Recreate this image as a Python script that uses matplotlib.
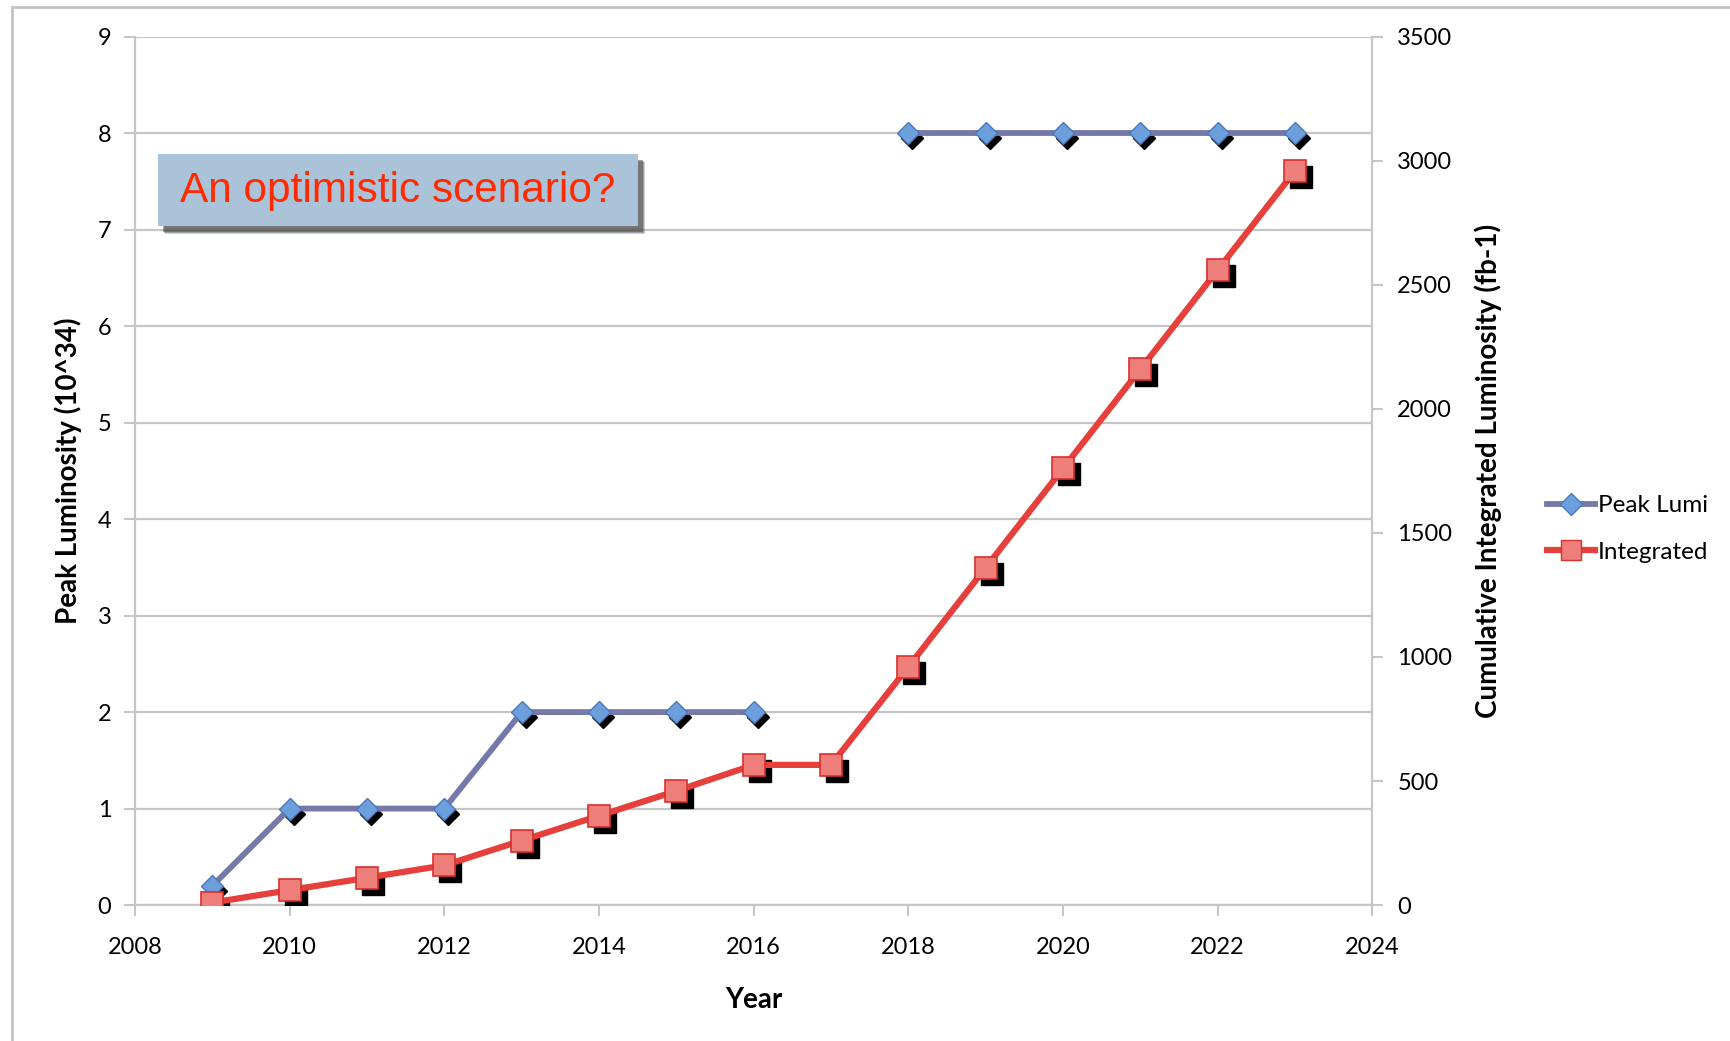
import matplotlib
matplotlib.use("Agg")
import matplotlib.pyplot as plt
import matplotlib.transforms as mtransforms
from matplotlib.lines import Line2D
from matplotlib.patches import Rectangle

years = [2009, 2010, 2011, 2012, 2013, 2014, 2015, 2016, 2017, 2018, 2019, 2020, 2021, 2022, 2023]
# peak lumi has no point for 2017
peak_years = [2009, 2010, 2011, 2012, 2013, 2014, 2015, 2016, 2018, 2019, 2020, 2021, 2022, 2023]
peak_lumi = [0.2, 1, 1, 1, 2, 2, 2, 2, 8, 8, 8, 8, 8, 8]
integrated = [10, 60, 110, 160, 260, 360, 460, 565, 565, 960, 1360, 1760, 2160, 2560, 2960]

left_ticks = [0, 1, 2, 3, 4, 5, 6, 7, 8, 9]
right_ticks = [0, 500, 1000, 1500, 2000, 2500, 3000, 3500]
x_ticks = [2008, 2010, 2012, 2014, 2016, 2018, 2020, 2022, 2024]

plt.rcParams['font.family'] = ['Lato', 'DejaVu Sans']

blue_line = '#7579AA'
blue_face = '#6E9FDD'
blue_edge = '#4A78B8'
red_line = '#E5403B'
red_face = '#EE7E7A'
red_edge = '#D9302C'
grid_c = '#C6C6C6'

fig = plt.figure(figsize=(17.31, 10.41), dpi=100)
ax = fig.add_axes([0.078, 0.1306, 0.7148, 0.834])
ax2 = ax.twinx()

# left axis: peak luminosity
sh1 = mtransforms.offset_copy(ax.transData, fig=fig, x=4, y=-5, units='dots')
ax.plot(peak_years[:8], peak_lumi[:8], ls='none', marker='D', ms=11.5, color='black', transform=sh1, zorder=2)
ax.plot(peak_years[8:], peak_lumi[8:], ls='none', marker='D', ms=11.5, color='black', transform=sh1, zorder=2)
ax.plot(peak_years[:8], peak_lumi[:8], color=blue_line, lw=4.2, zorder=3)
ax.plot(peak_years[8:], peak_lumi[8:], color=blue_line, lw=4.2, zorder=3)
ax.plot(peak_years, peak_lumi, ls='none', marker='D', ms=11.5, mfc=blue_face, mec=blue_edge, mew=1, zorder=4)

ax.set_xlim(2008, 2024)
ax.set_ylim(0, 9)
ax.set_xticks(x_ticks)
ax.set_yticks(left_ticks)
ax.grid(axis='y', color=grid_c, lw=1.6)
ax.set_axisbelow(True)

# right axis: integrated
sh2 = mtransforms.offset_copy(ax2.transData, fig=fig, x=6, y=-6, units='dots')
ax2.plot(years, integrated, ls='none', marker='s', ms=16.5, color='black', transform=sh2, zorder=2)
ax2.plot(years, integrated, color=red_line, lw=4.5, zorder=3)
ax2.plot(years, integrated, ls='none', marker='s', ms=16.5, mfc=red_face, mec=red_edge, mew=1.2, zorder=4)
ax2.set_ylim(0, 3500)
ax2.set_yticks(right_ticks)

for a in (ax, ax2):
    for s in a.spines.values():
        s.set_visible(False)
    a.tick_params(length=8, width=1.5, color=grid_c, labelsize=17, pad=9)
ax.spines['left'].set_visible(True)
ax.spines['bottom'].set_visible(True)
ax2.spines['right'].set_visible(True)
ax.spines['left'].set_color(grid_c)
ax.spines['bottom'].set_color(grid_c)
ax2.spines['right'].set_color(grid_c)
ax.spines['left'].set_linewidth(1.6)
ax.spines['bottom'].set_linewidth(1.6)
ax2.spines['right'].set_linewidth(1.6)
ax.tick_params(axis='x', pad=15)
ax2.tick_params(axis='y', pad=10)

ax.set_xlabel('Year', fontsize=20, fontweight='bold', labelpad=21)
ax.set_ylabel('Peak Luminosity (10^34)', fontsize=20, fontweight='bold', labelpad=11)
ax2.set_ylabel('Cumulative Integrated Luminosity (fb-1)', fontsize=20, fontweight='bold', labelpad=16)

# legend outside on the right
handles = [
    Line2D([], [], color=blue_line, lw=4.2, marker='D', ms=11, mfc=blue_face, mec=blue_edge),
    Line2D([], [], color=red_line, lw=4.5, marker='s', ms=14, mfc=red_face, mec=red_edge),
]
fig.legend(handles, ['Peak Lumi', 'Integrated'], loc='center left', bbox_to_anchor=(0.881, 0.492),
           frameon=False, fontsize=17.5, handlelength=2.0, handletextpad=0.1, labelspacing=1.05)

# annotation box with soft drop shadow
for dx, dy, al in [(0.0042, -0.0075, 0.25), (0.0036, -0.0065, 0.35), (0.003, -0.0055, 0.5)]:
    fig.patches.append(Rectangle((0.0910 + dx, 0.7830 + dy), 0.2777, 0.0692, transform=fig.transFigure,
                                 facecolor='#4A4A4A', edgecolor='none', alpha=al, zorder=5))
fig.patches.append(Rectangle((0.0910, 0.7830), 0.2777, 0.0692, transform=fig.transFigure,
                             facecolor='#ABC3D8', edgecolor='none', zorder=6))
fig.text(0.2298, 0.8166, 'An optimistic scenario?', color='#FF2A00', fontsize=30.5,
         family='Liberation Sans', ha='center', va='center', zorder=7)

# outer frame
fig.add_artist(Line2D([0.007, 0.007], [0.0, 0.9935], transform=fig.transFigure, color='#C4C4C4', lw=2))
fig.add_artist(Line2D([0.007, 1.0], [0.9935, 0.9935], transform=fig.transFigure, color='#C4C4C4', lw=2))

fig.savefig('out.png', dpi=100)
